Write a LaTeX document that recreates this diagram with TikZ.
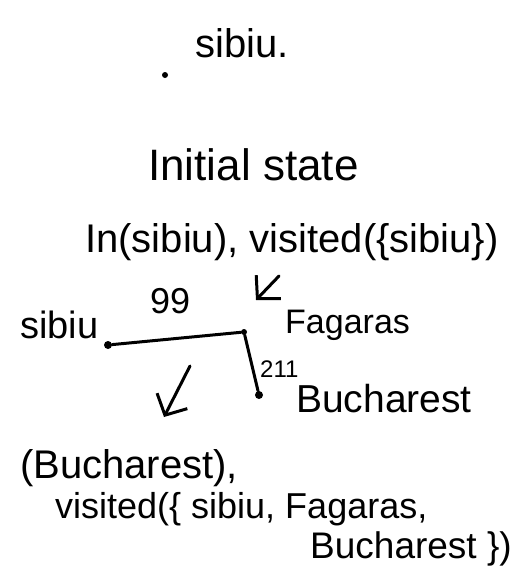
\documentclass[tikz,border=0pt]{standalone}
\usepackage{fontspec}
\setmainfont{Liberation Sans}
\usetikzlibrary{arrows.meta}
\newcommand{\fs}[1]{\fontsize{#1}{#1}\selectfont}
\begin{document}
\begin{tikzpicture}[x=1pt,y=-1pt,
  txt/.style={inner sep=0pt, anchor=base west},
  bigdot/.style={circle, fill=black, inner sep=0pt, minimum size=8pt},
  smalldot/.style={circle, fill=black, inner sep=0pt, minimum size=6pt},
  road/.style={line width=3pt, line cap=round, line join=round},
  pointer/.style={line width=3pt, line cap=round,
    -{Straight Barb[length=16pt, width=34pt, line width=3pt]}}
]
\useasboundingbox (0,0) rectangle (526,573);

% heading
\node[txt, font=\fs{40}] (title) at (195,57) {sibiu.};
\node[smalldot] (topdot) at (165,75) {};

\node[txt, font=\fs{44}] (init) at (148,180) {Initial state};
\node[txt, font=\fs{40}] (start) at (85,252) {In(sibiu), visited(\{sibiu\})};

\coordinate (p1tail) at (279,276);
\coordinate (p1tip) at (256,300);
\draw[pointer] (p1tail) -- (p1tip);

% route graph
\node[txt, font=\fs{38}] (lsib) at (20,338) {sibiu};
\node[txt, font=\fs{36}] (d99) at (150,313) {99};
\node[txt, font=\fs{34}] (lfag) at (285,333) {Fagaras};
\node[txt, font=\fs{24}] (d211) at (260,377) {211};
\node[txt, font=\fs{39}] (lbuc) at (296,412) {Bucharest};

\node[bigdot] (sib) at (108,345) {};
\node[smalldot] (fag) at (244,332) {};
\node[bigdot] (buc) at (259,395) {};
\draw[road] (sib) -- (fag) -- (buc);

\coordinate (p2tail) at (190,366);
\coordinate (p2tip) at (164,417);
\draw[pointer] (p2tail) -- (p2tip);

% resulting state
\node[txt, font=\fs{40}] (r1) at (20,478) {(Bucharest),};
\node[txt, font=\fs{36}] (r2) at (55,518) {visited(\{ sibiu, Fagaras,};
\node[txt, font=\fs{37}] (r3) at (310,558) {Bucharest \})};
\end{tikzpicture}
\end{document}
